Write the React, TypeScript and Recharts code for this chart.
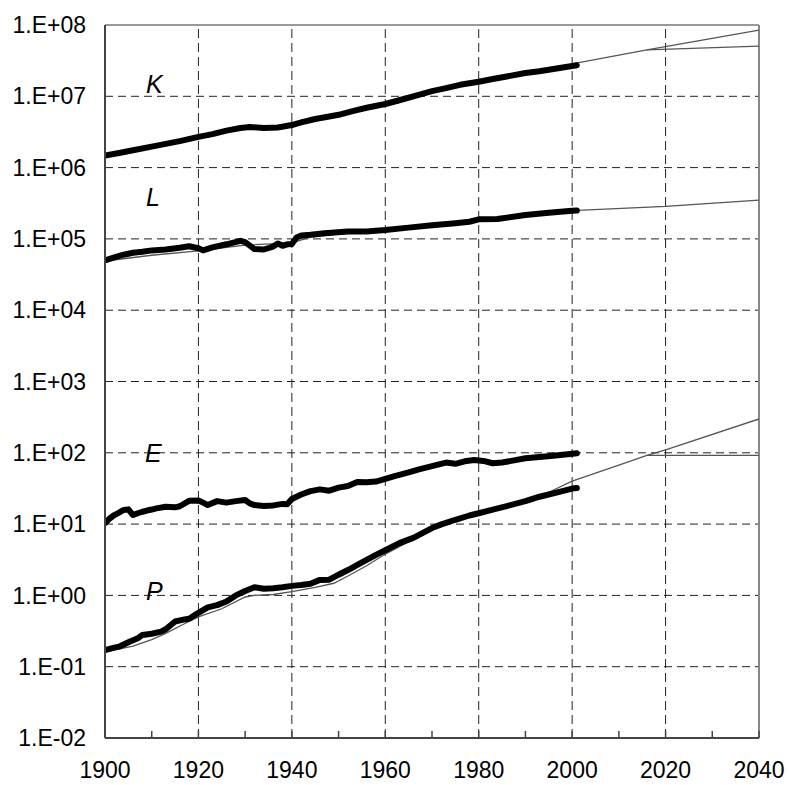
import { LineChart, Line, XAxis, YAxis, CartesianGrid, ReferenceLine } from 'recharts';

const FONT = '"Liberation Sans", Arial, Helvetica, sans-serif';

// x axis: labels every 20 years, small ticks every 10
const X_TICKS = [1900, 1910, 1920, 1930, 1940, 1950, 1960, 1970, 1980, 1990, 2000, 2010, 2020, 2030, 2040];
const GRID_YEARS = [1920, 1940, 1960, 1980, 2000, 2020];
const Y_TICKS = [0.01, 0.1, 1, 10, 100, 1e3, 1e4, 1e5, 1e6, 1e7, 1e8];

// K - observed
const K_YEARS = [1900, 1903, 1906, 1910, 1913, 1916, 1920, 1923, 1926, 1929, 1931, 1934, 1937, 1940, 1942, 1945, 1948, 1950, 1953, 1956, 1960, 1963, 1966, 1970, 1973, 1976, 1980, 1983, 1986, 1990, 1993, 1996, 2000, 2001];
const K_VALUES = [1.47e6, 1.6e6, 1.75e6, 1.97e6, 2.15e6, 2.35e6, 2.7e6, 2.95e6, 3.3e6, 3.6e6, 3.7e6, 3.6e6, 3.65e6, 3.95e6, 4.3e6, 4.8e6, 5.2e6, 5.5e6, 6.2e6, 6.9e6, 7.8e6, 8.8e6, 1.0e7, 1.18e7, 1.3e7, 1.45e7, 1.6e7, 1.75e7, 1.9e7, 2.12e7, 2.25e7, 2.42e7, 2.66e7, 2.72e7];
// K - projections
const K_FIT_YEARS = [2000, 2016, 2040];
const K_FIT_VALUES = [2.85e7, 4.47e7, 8.5e7];
const K_CAP_YEARS = [2016, 2040];
const K_CAP_VALUES = [4.47e7, 5.07e7];

// L - observed
const L_YEARS = [1900, 1902, 1904, 1906, 1908, 1910, 1913, 1916, 1918, 1920, 1921, 1923, 1926, 1929, 1930, 1932, 1934, 1936, 1937, 1938, 1939, 1940, 1941, 1942, 1944, 1947, 1952, 1956, 1960, 1965, 1970, 1975, 1978, 1980, 1984, 1990, 1995, 2000, 2001];
const L_VALUES = [5.0e4, 5.5e4, 6.0e4, 6.4e4, 6.6e4, 6.9e4, 7.1e4, 7.5e4, 7.9e4, 7.4e4, 6.9e4, 7.6e4, 8.4e4, 9.4e4, 9.0e4, 7.2e4, 7.1e4, 7.8e4, 8.6e4, 8.0e4, 8.4e4, 8.5e4, 1.05e5, 1.12e5, 1.14e5, 1.2e5, 1.27e5, 1.27e5, 1.33e5, 1.44e5, 1.55e5, 1.66e5, 1.74e5, 1.88e5, 1.9e5, 2.16e5, 2.33e5, 2.48e5, 2.5e5];
// L - model
const L_FIT_YEARS = [1900, 1910, 1920, 1930, 1940, 1944, 1950, 1960, 1970, 1980, 1990, 2000, 2020, 2040];
const L_FIT_VALUES = [4.9e4, 5.9e4, 6.8e4, 8.2e4, 8.8e4, 1.06e5, 1.17e5, 1.3e5, 1.5e5, 1.8e5, 2.1e5, 2.5e5, 2.85e5, 3.5e5];

// E - observed
const E_YEARS = [1900, 1901, 1902, 1903, 1904, 1905, 1906, 1907, 1908, 1909, 1910, 1911, 1913, 1915, 1916, 1918, 1920, 1921, 1922, 1924, 1926, 1928, 1930, 1931, 1932, 1934, 1936, 1938, 1939, 1940, 1942, 1944, 1946, 1948, 1950, 1952, 1954, 1956, 1958, 1960, 1962, 1965, 1967, 1970, 1973, 1975, 1977, 1979, 1981, 1983, 1985, 1987, 1990, 1993, 1996, 2000, 2001];
const E_VALUES = [10.3, 12, 13.4, 14.5, 15.8, 16.1, 13.4, 14.2, 14.9, 15.5, 16, 16.6, 17.5, 17.2, 17.8, 21.2, 21.4, 20, 18.5, 21, 20, 21, 21.8, 19.5, 18.5, 17.9, 18.3, 19.2, 19, 22.5, 26, 29, 30.7, 29.4, 32.5, 34.2, 39, 38.5, 39.5, 43, 47, 53, 58, 65, 73, 70, 76, 79.4, 77, 71.3, 73, 77, 83.7, 87, 91.2, 97, 98.5];

// P - observed
const P_YEARS = [1900, 1902, 1903, 1905, 1907, 1908, 1910, 1912, 1913, 1915, 1917, 1918, 1920, 1922, 1924, 1926, 1928, 1930, 1932, 1934, 1936, 1938, 1940, 1942, 1944, 1946, 1948, 1950, 1952, 1955, 1958, 1960, 1963, 1966, 1970, 1972, 1975, 1978, 1980, 1983, 1986, 1990, 1993, 1996, 2000, 2001];
const P_VALUES = [0.171, 0.185, 0.191, 0.22, 0.25, 0.279, 0.29, 0.31, 0.335, 0.43, 0.46, 0.47, 0.57, 0.68, 0.73, 0.82, 1.0, 1.15, 1.3, 1.24, 1.26, 1.3, 1.36, 1.4, 1.46, 1.65, 1.66, 1.95, 2.27, 2.9, 3.7, 4.3, 5.4, 6.4, 8.8, 9.9, 11.5, 13.2, 14.2, 16, 17.9, 21, 24.2, 27, 31.5, 32];
// P - model
const P_FIT_YEARS = [1900, 1906, 1910, 1913, 1917, 1920, 1925, 1930, 1932, 1936, 1940, 1945, 1949, 1952, 1956, 1960, 1970, 1980, 1990, 1995, 2000, 2005, 2010, 2016, 2020, 2040];
const P_FIT_VALUES = [0.162, 0.195, 0.24, 0.294, 0.4, 0.5, 0.65, 0.95, 1.0, 1.03, 1.13, 1.3, 1.48, 1.87, 2.6, 3.8, 8.5, 14.2, 22, 28, 40, 52, 67, 92, 110, 298];
const P_CAP_YEARS = [2016, 2040];
const P_CAP_VALUES = [92, 92];

const zip = (years: number[], values: number[]) => years.map((year, i) => ({ year, v: values[i] }));

const fmtExp = (v: number) => {
  const e = Math.round(Math.log10(v));
  const a = Math.abs(e);
  return `1.E${e < 0 ? '-' : '+'}${a < 10 ? '0' + a : a}`;
};

function YearTick(props: any) {
  const { x, y, payload } = props;
  const axisY = y - 24;
  return (
    <g>
      <line x1={x} x2={x} y1={axisY} y2={axisY - 7} stroke="#444" strokeWidth={1.5} />
      {payload.value % 20 === 0 && (
        <text x={x} y={y} dy="0.71em" textAnchor="middle" fontSize={23} fontFamily={FONT} fill="#000">
          {payload.value}
        </text>
      )}
    </g>
  );
}

const thick = { stroke: '#000', strokeWidth: 6, strokeLinejoin: 'round' as const, strokeLinecap: 'round' as const };
const thin = { stroke: '#555', strokeWidth: 1.3 };

export default function App() {
  return (
    <div style={{ position: 'absolute', left: 0, top: 0, width: 789, height: 785, background: '#fff', fontFamily: FONT }}>
      <LineChart width={789} height={785} margin={{ top: 25, right: 30, left: 0, bottom: 0 }}>
        <CartesianGrid vertical={false} stroke="#222" strokeDasharray="8 5" />
        {GRID_YEARS.map((yr) => (
          <ReferenceLine key={yr} x={yr} stroke="#222" strokeDasharray="9 5" />
        ))}
        <ReferenceLine y={1e8} stroke="#999" strokeWidth={2} />
        <ReferenceLine x={2040} stroke="#888" strokeWidth={2} />
        <XAxis
          dataKey="year"
          type="number"
          domain={[1900, 2040]}
          ticks={X_TICKS}
          interval={0}
          allowDataOverflow
          height={47}
          tickLine={false}
          tickSize={10}
          tickMargin={14}
          axisLine={{ stroke: '#444', strokeWidth: 2 }}
          tick={<YearTick />}
        />
        <YAxis
          type="number"
          scale="log"
          domain={[0.01, 1e8]}
          ticks={Y_TICKS}
          interval={0}
          allowDataOverflow
          width={105}
          tickLine={false}
          tickSize={10}
          tickMargin={9}
          axisLine={{ stroke: '#444', strokeWidth: 2 }}
          tickFormatter={fmtExp}
          tick={{ fontSize: 23, fill: '#000', fontFamily: FONT }}
        />
        <Line data={zip(L_FIT_YEARS, L_FIT_VALUES)} dataKey="v" {...thin} dot={false} isAnimationActive={false} />
        <Line data={zip(P_FIT_YEARS, P_FIT_VALUES)} dataKey="v" {...thin} dot={false} isAnimationActive={false} />
        <Line data={zip(P_CAP_YEARS, P_CAP_VALUES)} dataKey="v" {...thin} dot={false} isAnimationActive={false} />
        <Line data={zip(K_FIT_YEARS, K_FIT_VALUES)} dataKey="v" {...thin} dot={false} isAnimationActive={false} />
        <Line data={zip(K_CAP_YEARS, K_CAP_VALUES)} dataKey="v" {...thin} dot={false} isAnimationActive={false} />
        <Line data={zip(K_YEARS, K_VALUES)} dataKey="v" {...thick} dot={false} isAnimationActive={false} />
        <Line data={zip(L_YEARS, L_VALUES)} dataKey="v" {...thick} dot={false} isAnimationActive={false} />
        <Line data={zip(E_YEARS, E_VALUES)} dataKey="v" {...thick} dot={false} isAnimationActive={false} />
        <Line data={zip(P_YEARS, P_VALUES)} dataKey="v" {...thick} dot={false} isAnimationActive={false} />
      </LineChart>
      <svg width={789} height={785} style={{ position: 'absolute', left: 0, top: 0, pointerEvents: 'none' }}>
        <g fontSize={25} fontStyle="italic" fontFamily={FONT} fill="#000">
          <text x={146} y={93}>K</text>
          <text x={146} y={206}>L</text>
          <text x={145} y={462}>E</text>
          <text x={146} y={600}>P</text>
        </g>
      </svg>
    </div>
  );
}
